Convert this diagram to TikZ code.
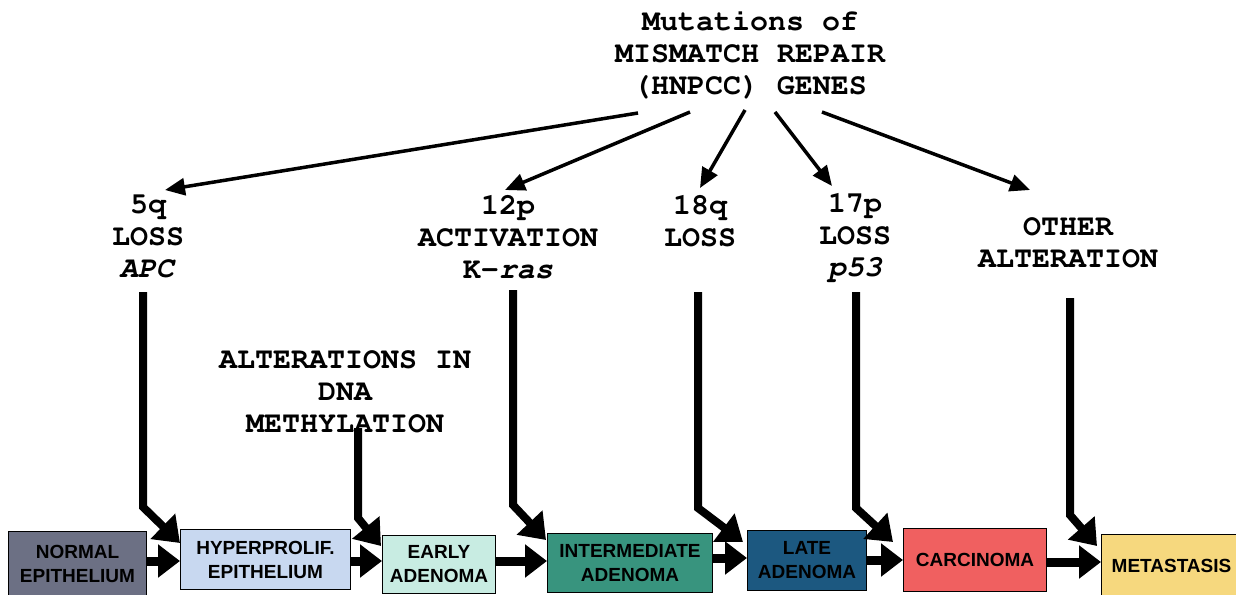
\documentclass[tikz,border=0pt]{standalone}
\usepackage[T1]{fontenc}
\usepackage{fontspec}
\setmainfont{Liberation Sans}
\setmonofont{Liberation Mono}
\usetikzlibrary{arrows.meta}

% bold Courier for the event labels
\newcommand{\courb}{\fontencoding{T1}\fontfamily{pcr}\fontseries{b}\selectfont}

% stage colours
\definecolor{cnormal}{RGB}{108,112,132}
\definecolor{chyper}{RGB}{200,216,240}
\definecolor{cearly}{RGB}{200,236,226}
\definecolor{cinter}{RGB}{56,148,126}
\definecolor{clate}{RGB}{28,88,128}
\definecolor{ccarc}{RGB}{240,96,96}
\definecolor{cmeta}{RGB}{246,216,126}

\begin{document}
\begin{tikzpicture}[x=1pt,y=-1pt,
  lbl/.style={font=\fontsize{30}{32}\courb, align=center, inner sep=0pt},
  stage/.style={draw=black, line width=1pt, anchor=north west, inner sep=0pt,
    font=\fontsize{19}{24}\selectfont\bfseries, align=center},
  thinarr/.style={line width=3.5pt, -{Triangle[length=20pt,width=17pt]}},
  fatarr/.style={line width=9pt, -{Triangle[length=22pt,width=32pt]}},
  bentarr/.style={line width=8pt, line join=miter, -{Triangle[length=24pt,width=34pt]}}
]
\useasboundingbox (0,0) rectangle (1236,594);
\clip (0,0) rectangle (1236,594);
\fill[white] (0,0) rectangle (1236,594);

% progression stages
\node[stage, fill=cnormal, minimum width=138pt, minimum height=64pt] (normal) at (8,531) {NORMAL\\EPITHELIUM};
\node[stage, fill=chyper, minimum width=170pt, minimum height=60pt] (hyper) at (180,529) {HYPERPROLIF.\\EPITHELIUM};
\node[stage, fill=cearly, minimum width=113pt, minimum height=58pt] (early) at (382,535) {EARLY\\ADENOMA};
\node[stage, fill=cinter, minimum width=165pt, minimum height=59pt] (inter) at (547,533) {INTERMEDIATE\\ADENOMA};
\node[stage, fill=clate, minimum width=119pt, minimum height=60pt] (late) at (747,530) {LATE\\ADENOMA};
\node[stage, fill=ccarc, minimum width=143pt, minimum height=63pt] (carc) at (903,528) {CARCINOMA};
\node[stage, fill=cmeta, minimum width=140pt, minimum height=62pt] (meta) at (1101,534) {METASTASIS};

% step arrows between stages
\draw[fatarr] (normal.east |- 0,561) -- (hyper.west |- 0,561);
\draw[fatarr] (hyper.east |- 0,561) -- (early.west |- 0,561);
\draw[fatarr] (early.east |- 0,561) -- (inter.west |- 0,561);
\draw[fatarr] (inter.east |- 0,558) -- (late.west |- 0,558);
\draw[fatarr] (late.east |- 0,560) -- (carc.west |- 0,560);
\draw[fatarr] (carc.east |- 0,562) -- (meta.west |- 0,562);

% genetic events
\node[lbl] (mmr) at (750,54) {Mutations of\\MISMATCH REPAIR\\(HNPCC) GENES};
\node[lbl] (apc) at (148,237) {5q\\LOSS\\\textit{APC}};
\node[lbl] (kras) at (508,237) {12p\\ACTIVATION\\K-\textit{ras}};
\node[lbl] (q18) at (700,221) {18q\\LOSS};
\node[lbl] (p53) at (855,237) {17p\\LOSS\\\textit{p53}};
\node[lbl] (other) at (1068,243) {OTHER\\ALTERATION};
\node[lbl] (dna) at (345,392) {ALTERATIONS IN\\DNA\\METHYLATION};

% arrows from the mismatch repair genes
\coordinate (s1) at (638,113); \coordinate (t1) at (165,190);
\coordinate (s2) at (690,112); \coordinate (t2) at (505,190);
\coordinate (s3) at (745,110); \coordinate (t3) at (700,188);
\coordinate (s4) at (775,112); \coordinate (t4) at (832,186);
\coordinate (s5) at (822,112); \coordinate (t5) at (1030,190);
\draw[thinarr] (s1) -- (t1);
\draw[thinarr] (s2) -- (t2);
\draw[thinarr] (s3) -- (t3);
\draw[thinarr] (s4) -- (t4);
\draw[thinarr] (s5) -- (t5);

% arrows from each event down to its stage
\draw[bentarr] (143,292) coordinate (a0) -- (143,507) coordinate (a1) -- (180,543) coordinate (a2);
\draw[bentarr] (358,428) coordinate (d0) -- (358,518) coordinate (d1) -- (381,546) coordinate (d2);
\draw[bentarr] (513,290) coordinate (k0) -- (513,505) coordinate (k1) -- (546,540) coordinate (k2);
\draw[bentarr] (698,292) coordinate (q0) -- (698,508) coordinate (q1) -- (743,542) coordinate (q2);
\draw[bentarr] (856,292) coordinate (p0) -- (856,508) coordinate (p1) -- (893,542) coordinate (p2);
\draw[bentarr] (1070,298) coordinate (o0) -- (1070,515) coordinate (o1) -- (1097,546) coordinate (o2);
\end{tikzpicture}
\end{document}
